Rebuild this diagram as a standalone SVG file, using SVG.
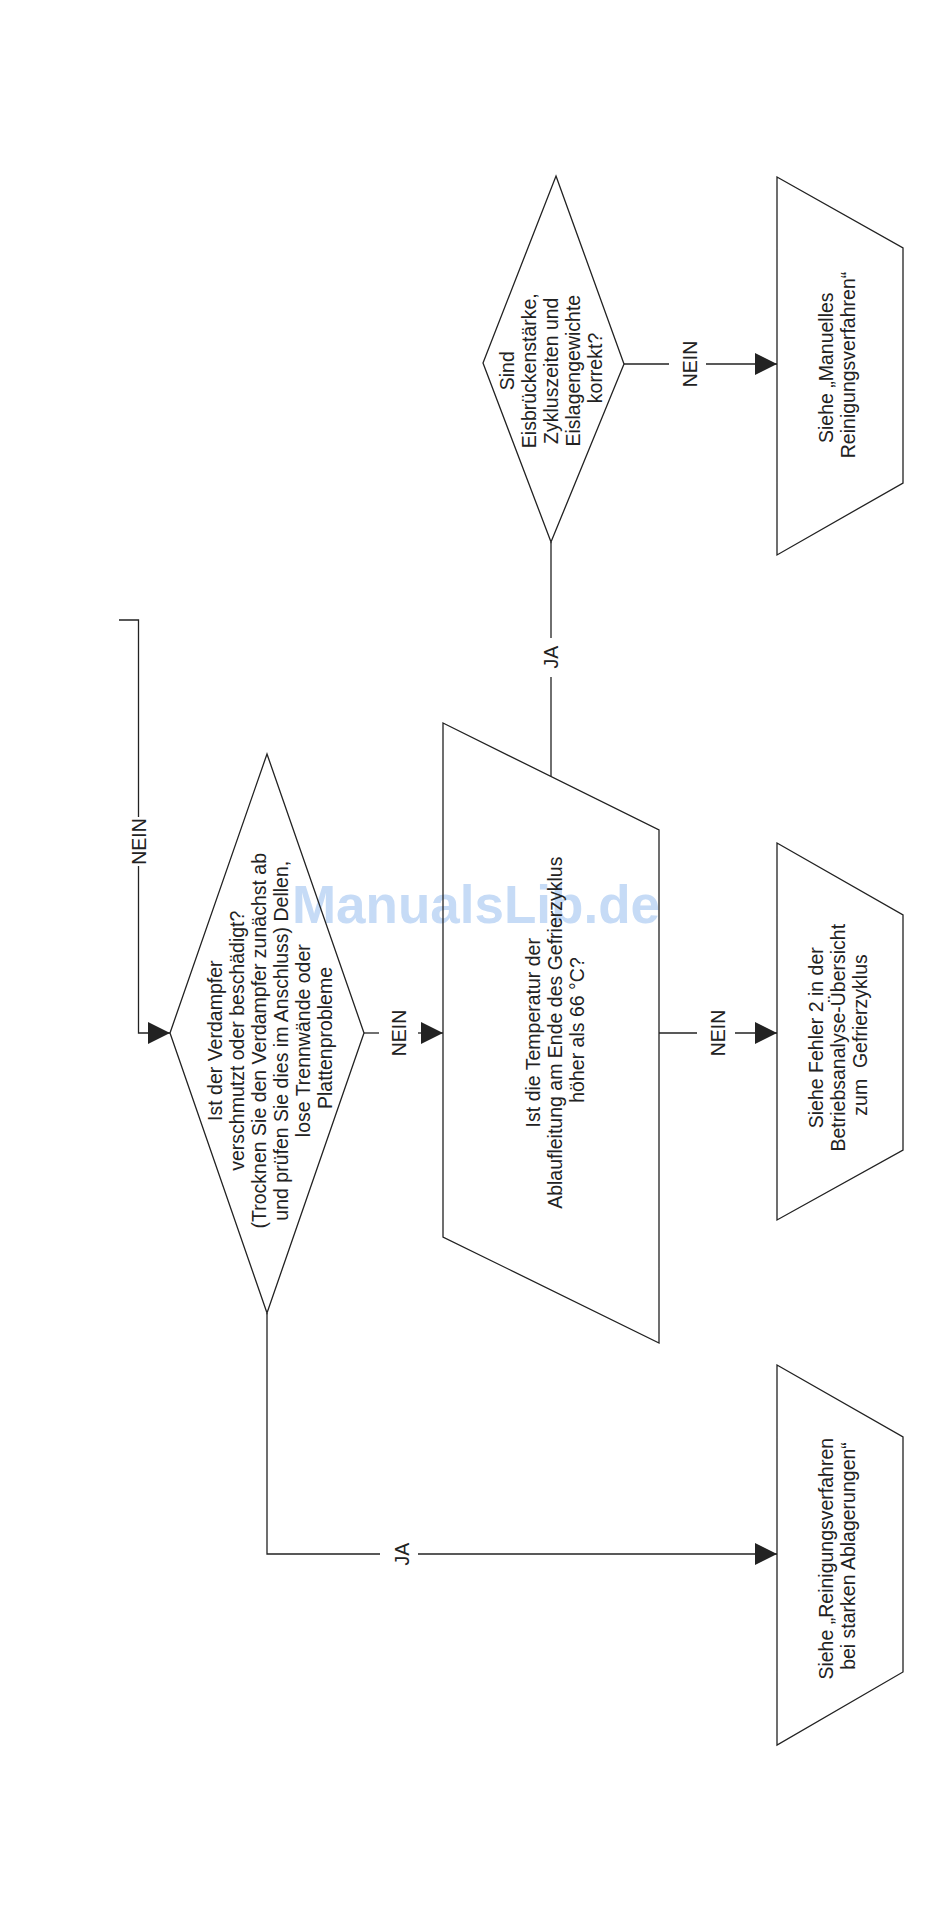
<svg xmlns="http://www.w3.org/2000/svg" width="950" height="1921" viewBox="0 0 950 1921">
<style>
  .shape { fill: none; stroke: #222; stroke-width: 1.3; }
  .conn { fill: none; stroke: #222; stroke-width: 1.3; }
  .t { font-family: "Liberation Sans", Arial, sans-serif; font-size: 19.5px; fill: #222; text-anchor: middle; }
  .wm { font-family: "Liberation Sans", Arial, sans-serif; font-size: 53px; font-weight: bold; fill: #c6dbf6; text-anchor: middle; }
</style>
<defs>
  <marker id="arr" markerUnits="userSpaceOnUse" markerWidth="22" markerHeight="22" refX="22" refY="11" orient="auto">
    <path d="M0,0 L22,11 L0,22 Z" fill="#222"/>
  </marker>
</defs>
<rect width="950" height="1921" fill="#fff"/>
<text class="wm" x="476" y="923">ManualsLib.de</text>

<g id="connectors">
  <path class="conn" d="M119,620 H138.5 V817"/>
  <path class="conn" d="M138.5,866 V1033 H170" marker-end="url(#arr)"/>
  <g transform="translate(138.5,841.5) rotate(-90)"><text class="t" x="0" y="7">NEIN</text></g>

  <path class="conn" d="M364,1033 H379"/>
  <path class="conn" d="M418,1033 H443" marker-end="url(#arr)"/>
  <g transform="translate(399,1033) rotate(-90)"><text class="t" x="0" y="7">NEIN</text></g>

  <path class="conn" d="M659,1033 H697"/>
  <path class="conn" d="M735,1033 H777" marker-end="url(#arr)"/>
  <g transform="translate(718,1033) rotate(-90)"><text class="t" x="0" y="7">NEIN</text></g>

  <path class="conn" d="M551,776 V677"/>
  <path class="conn" d="M551,638 V542"/>
  <g transform="translate(551,657) rotate(-90)"><text class="t" x="0" y="7">JA</text></g>

  <path class="conn" d="M624,364 H669"/>
  <path class="conn" d="M706,364 H777" marker-end="url(#arr)"/>
  <g transform="translate(690,364) rotate(-90)"><text class="t" x="0" y="7">NEIN</text></g>

  <path class="conn" d="M267,1313 V1554 H380"/>
  <path class="conn" d="M418,1554 H777" marker-end="url(#arr)"/>
  <g transform="translate(402,1554) rotate(-90)"><text class="t" x="0" y="7">JA</text></g>
</g>

<g id="decision-verdampfer">
  <polygon class="shape" points="267,754 364,1033 267,1313 170,1033"/>
  <g transform="translate(270,1038) rotate(-90)">
    <text class="t">
      <tspan x="0" y="-48">Ist der Verdampfer</tspan>
      <tspan x="0" y="-26">verschmutzt oder beschädigt?</tspan>
      <tspan x="0" y="-4">(Trocknen Sie den Verdampfer zunächst ab</tspan>
      <tspan x="0" y="18">und prüfen Sie dies im Anschluss) Dellen,</tspan>
      <tspan x="0" y="40">lose Trennwände oder</tspan>
      <tspan x="0" y="62">Plattenprobleme</tspan>
    </text>
  </g>
</g>

<g id="decision-temperatur">
  <polygon class="shape" points="443,723 659,830 659,1343 443,1237"/>
  <g transform="translate(555,1030) rotate(-90)">
    <text class="t">
      <tspan x="0" y="-15">Ist die Temperatur der</tspan>
      <tspan x="0" y="7">Ablaufleitung am Ende des Gefrierzyklus</tspan>
      <tspan x="0" y="29">höher als 66 °C?</tspan>
    </text>
  </g>
</g>

<g id="decision-eisbruecke">
  <polygon class="shape" points="556,176 624,364 551,542 483,363"/>
  <g transform="translate(551,368) rotate(-90)">
    <text class="t">
      <tspan x="0" y="-37">Sind</tspan>
      <tspan x="0" y="-15">Eisbrückenstärke,</tspan>
      <tspan x="0" y="7">Zykluszeiten und</tspan>
      <tspan x="0" y="29">Eislagengewichte</tspan>
      <tspan x="0" y="51">korrekt?</tspan>
    </text>
  </g>
</g>

<g id="result-manuelles">
  <polygon class="shape" points="777,177 903,248 903,483 777,555"/>
  <g transform="translate(837,365) rotate(-90)">
    <text class="t">
      <tspan x="0" y="-4">Siehe „Manuelles</tspan>
      <tspan x="0" y="18">Reinigungsverfahren“</tspan>
    </text>
  </g>
</g>

<g id="result-fehler2">
  <polygon class="shape" points="777,843 903,915 903,1150 777,1220"/>
  <g transform="translate(838,1035) rotate(-90)">
    <text class="t">
      <tspan x="0" y="-15">Siehe Fehler 2 in der</tspan>
      <tspan x="0" y="7">Betriebsanalyse-Übersicht</tspan>
      <tspan x="0" y="29">zum&#160; Gefrierzyklus</tspan>
    </text>
  </g>
</g>

<g id="result-ablagerungen">
  <polygon class="shape" points="777,1365 903,1437 903,1672 777,1745"/>
  <g transform="translate(837,1556) rotate(-90)">
    <text class="t">
      <tspan x="0" y="-4">Siehe „Reinigungsverfahren</tspan>
      <tspan x="0" y="18">bei starken Ablagerungen“</tspan>
    </text>
  </g>
</g>
</svg>
